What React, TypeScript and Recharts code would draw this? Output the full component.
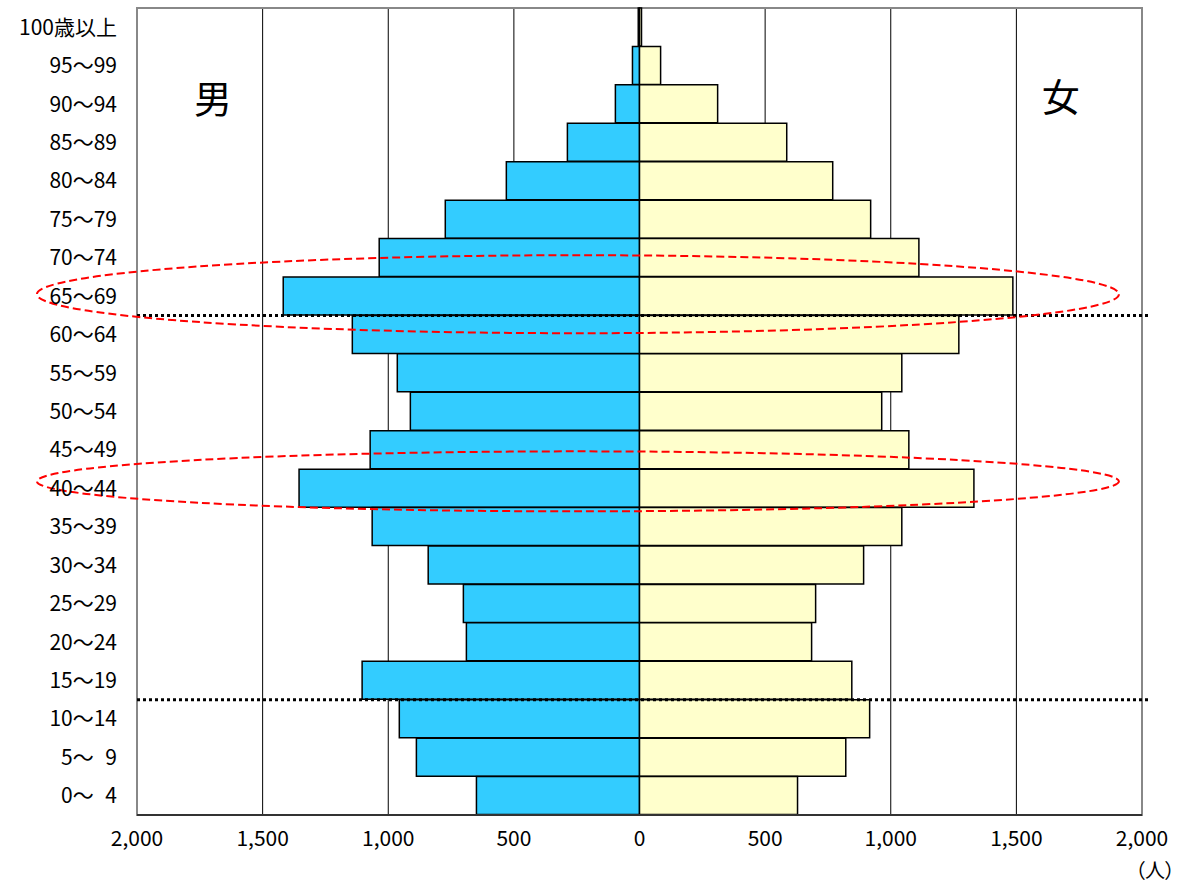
import React from "react";
import {
  Bar,
  BarChart,
  CartesianGrid,
  ReferenceArea,
  ReferenceDot,
  ReferenceLine,
  XAxis,
  YAxis,
} from "recharts";

const ageGroups = [
  "100歳以上",
  "95～99",
  "90～94",
  "85～89",
  "80～84",
  "75～79",
  "70～74",
  "65～69",
  "60～64",
  "55～59",
  "50～54",
  "45～49",
  "40～44",
  "35～39",
  "30～34",
  "25～29",
  "20～24",
  "15～19",
  "10～14",
  "5～\u20079",
  "0～\u20074",
];

const maleCounts = [
  5, 28, 96, 287, 530, 773, 1036, 1418, 1143, 964, 912, 1072, 1355, 1064, 841,
  701, 689, 1104, 956, 888, 649,
];

const femaleCounts = [
  8, 84, 311, 586, 769, 920, 1112, 1486, 1271, 1044, 964, 1072, 1331, 1044, 892,
  701, 685, 845, 916, 821, 629,
];

const xTicks = [-2000, -1500, -1000, -500, 0, 500, 1000, 1500, 2000];

const data = ageGroups.map((age, i) => ({
  age,
  male: -maleCounts[i],
  female: femaleCounts[i],
}));

const W = 1177;
const H = 886;
const margin = { top: 8, right: 35, bottom: 0, left: 0 };
const xAxisHeight = 71;
const band = (H - margin.top - margin.bottom - xAxisHeight) / ageGroups.length;
const font = '"Noto Sans CJK JP", "Noto Sans", sans-serif';

const fmt = (v: number) =>
  String(Math.abs(v)).replace(/\B(?=(\d{3})+(?!\d))/g, ",");

// dotted line drawn on the lower edge of a row
const edgeLine = (props: any) => (
  <line
    x1={props.x1}
    x2={props.x2 + 6}
    y1={props.y1 + band / 2}
    y2={props.y2 + band / 2}
    stroke="#000"
    strokeWidth={3}
    strokeDasharray="3 3"
  />
);

const ellipse = (dy: number, ry: number) => (props: any) => (
  <ellipse
    cx={props.cx}
    cy={props.cy + dy}
    rx={541}
    ry={ry}
    fill="none"
    stroke="#ff0000"
    strokeWidth={2}
    strokeDasharray="8 4"
  />
);

const bigText = (txt: string, dy: number) => (props: any) => (
  <text
    x={props.cx}
    y={props.cy + dy}
    textAnchor="middle"
    dominantBaseline="central"
    fontSize={38}
    fontFamily={font}
    fill="#000"
  >
    {txt}
  </text>
);

export default function App() {
  return (
    <div style={{ position: "absolute", left: 0, top: 0, width: W, height: H }}>
      <BarChart
        width={W}
        height={H}
        data={data}
        layout="vertical"
        margin={margin}
        stackOffset="sign"
        barCategoryGap={0}
      >
        <CartesianGrid horizontal={false} stroke="#000" strokeWidth={1} />
        <XAxis
          type="number"
          domain={[-2000, 2000]}
          ticks={xTicks}
          tickFormatter={fmt}
          height={xAxisHeight}
          tickLine={false}
          tickSize={6}
          tickMargin={10}
          axisLine={{ stroke: "#333", strokeWidth: 2 }}
          tick={{ fontSize: 21, fontFamily: font, fill: "#000" }}
        />
        <YAxis
          type="category"
          dataKey="age"
          width={137}
          tickLine={false}
          axisLine={false}
          tickSize={6}
          tickMargin={14}
          interval={0}
          tick={{ fontSize: 21, fontFamily: font, fill: "#000" }}
        />
        <ReferenceArea
          x1={-2000}
          x2={2000}
          fill="none"
          stroke="#888"
          strokeWidth={2}
          fillOpacity={0}
        />
        <Bar
          dataKey="male"
          stackId="a"
          fill="#33ccff"
          stroke="#000"
          strokeWidth={1.5}
          isAnimationActive={false}
        />
        <Bar
          dataKey="female"
          stackId="a"
          fill="#ffffcc"
          stroke="#000"
          strokeWidth={1.5}
          isAnimationActive={false}
        />
        <ReferenceLine y="65～69" ifOverflow="visible" shape={edgeLine} />
        <ReferenceLine y="15～19" ifOverflow="visible" shape={edgeLine} />
        <ReferenceDot
          x={-245}
          y="65～69"
          r={1}
          ifOverflow="visible"
          shape={ellipse(-2, 39)}
        />
        <ReferenceDot
          x={-245}
          y="40～44"
          r={1}
          ifOverflow="visible"
          shape={ellipse(-7, 30)}
        />
        <ReferenceDot
          x={-1697}
          y="90～94"
          r={1}
          ifOverflow="visible"
          shape={bigText("男", -8)}
        />
        <ReferenceDot
          x={1677}
          y="90～94"
          r={1}
          ifOverflow="visible"
          shape={bigText("女", -10)}
        />
      </BarChart>
      <span
        style={{
          position: "absolute",
          right: 2,
          top: 858,
          fontSize: 20,
          lineHeight: "24px",
          fontFamily: font,
          fontFeatureSettings: '"palt"',
          whiteSpace: "nowrap",
        }}
      >
        （人）
      </span>
    </div>
  );
}
